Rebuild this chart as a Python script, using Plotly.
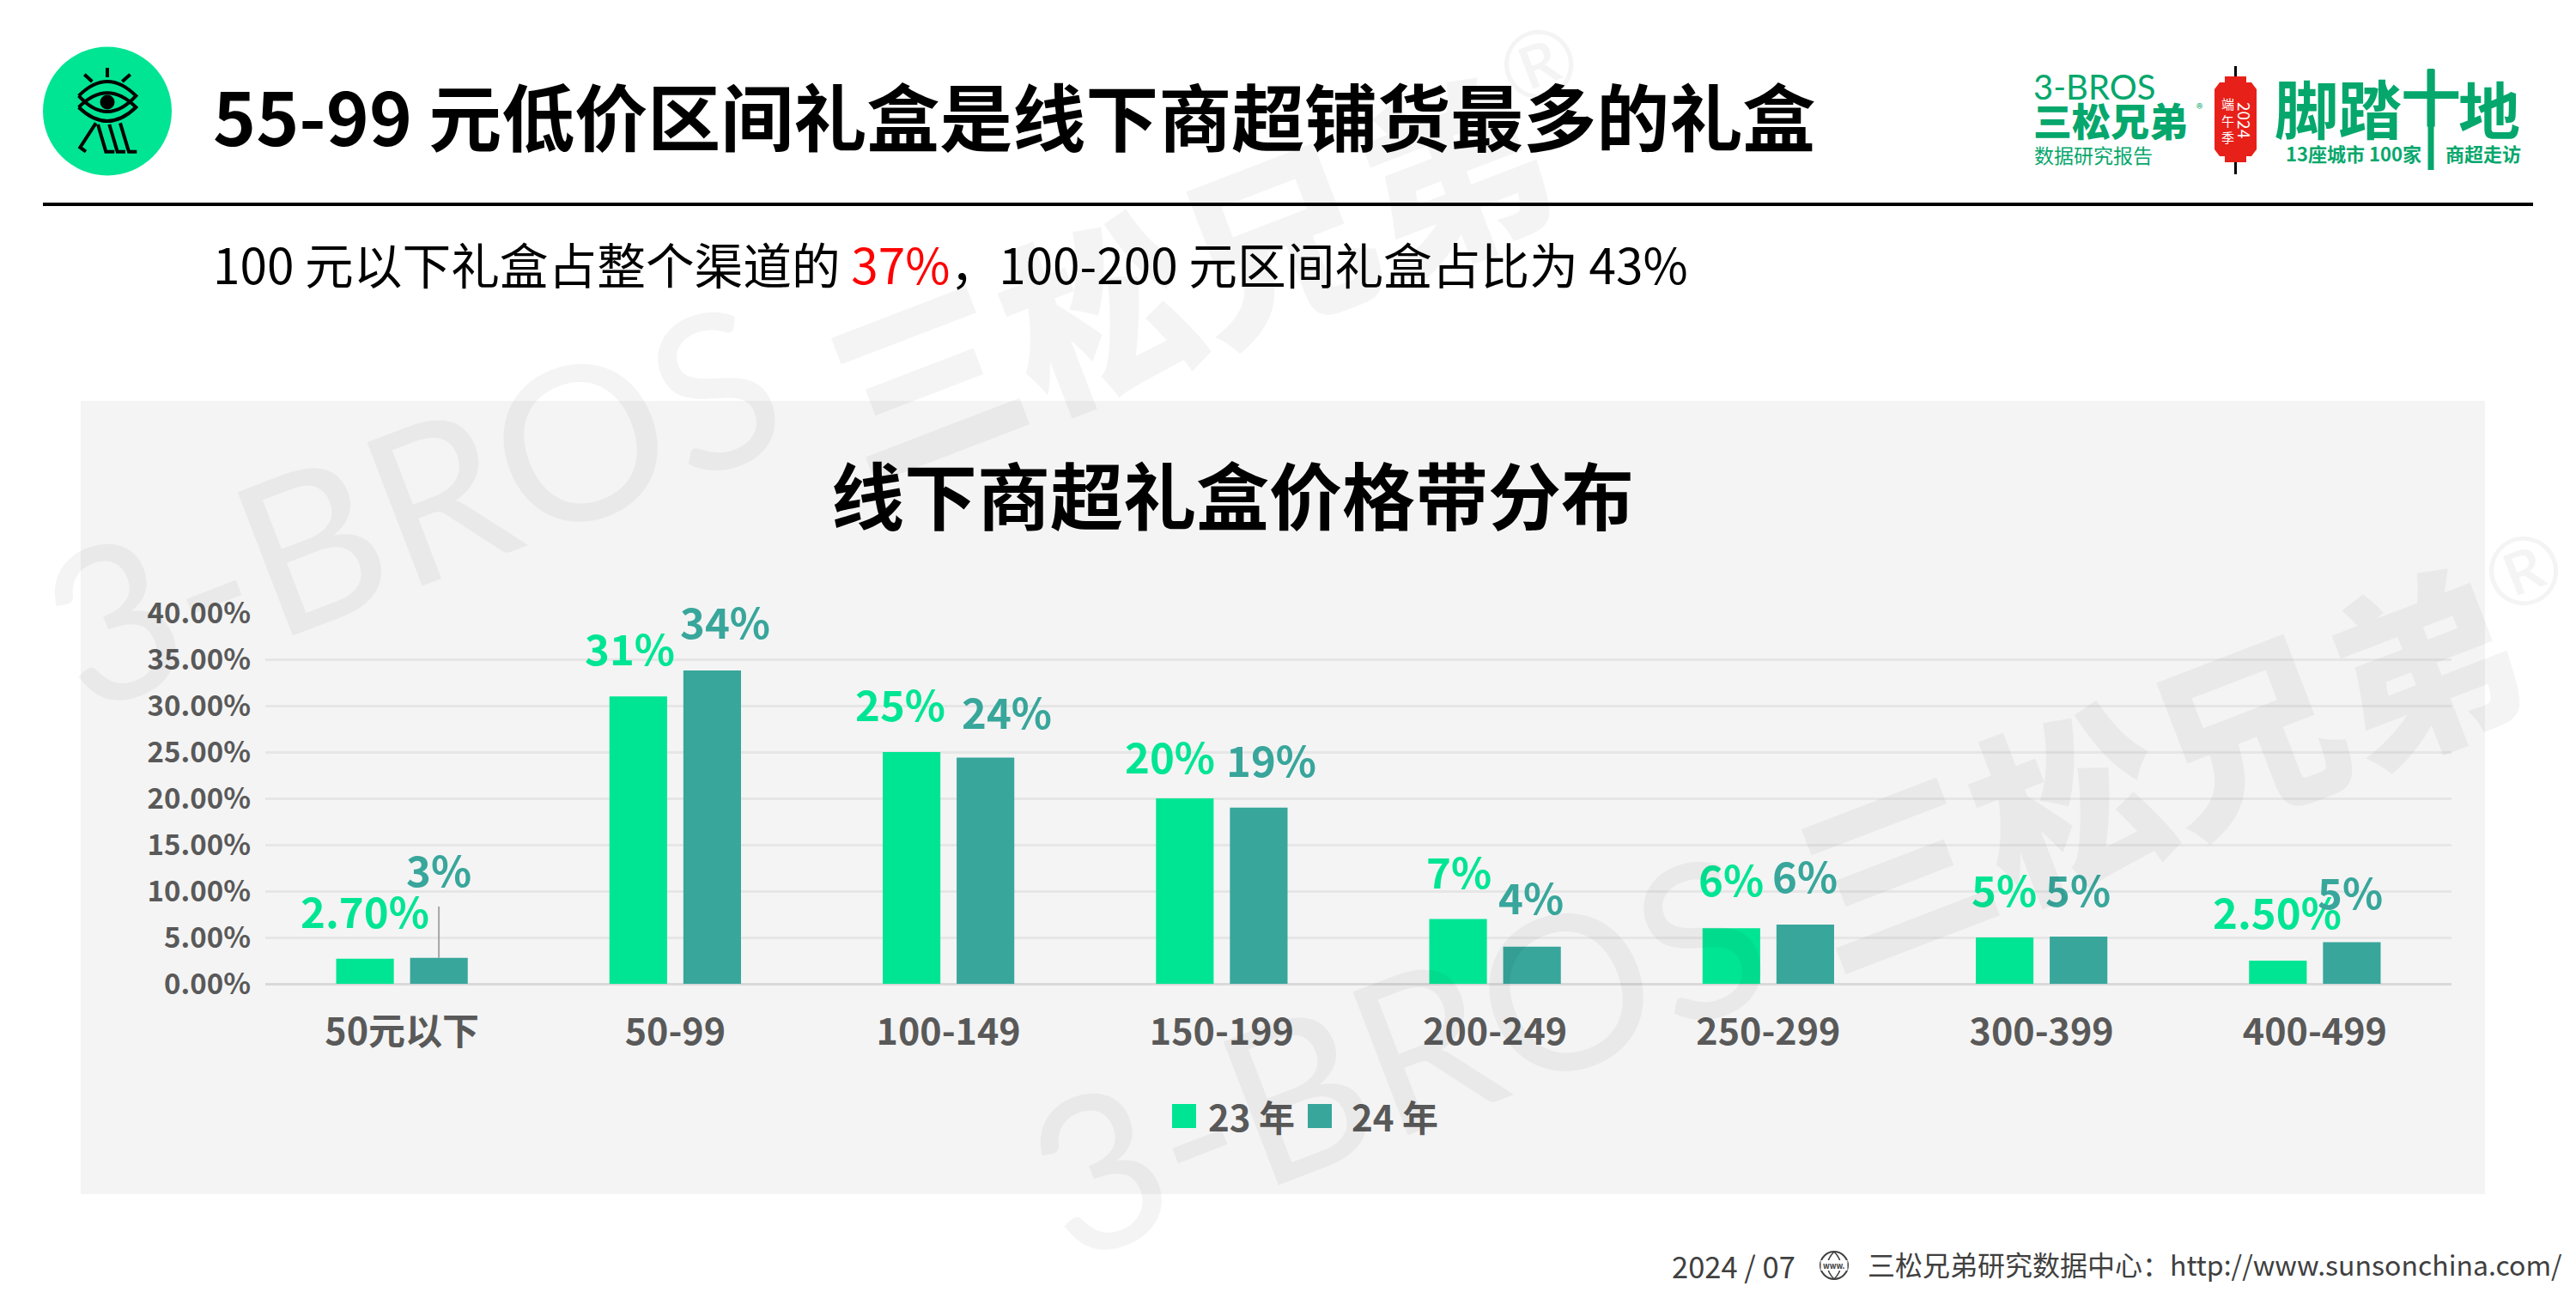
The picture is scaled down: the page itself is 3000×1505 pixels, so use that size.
import plotly.graph_objects as go

# ---- data ----
categories = ["50元以下", "50-99", "100-149", "150-199", "200-249", "250-299", "300-399", "400-499"]
values_23 = [2.7, 31, 25, 20, 7, 6, 5, 2.5]
values_24 = [2.8, 33.8, 24.4, 19, 4, 6.4, 5.1, 4.5]
labels_23 = ["2.70%", "31%", "25%", "20%", "7%", "6%", "5%", "2.50%"]
labels_24 = ["3%", "34%", "24%", "19%", "4%", "6%", "5%", "5%"]
series_names = ["23 年", "24 年"]

# ---- layout constants (pixels of the 3000x1505 page) ----
W, H = 3000, 1505
PL, PR, PT, PB = 309, 2855, 714, 1146
GREEN, TEAL, GREY = "#00E594", "#38A69B", "#595959"
LOGO = "#06A76C"
CJK = "Noto Sans CJK SC"
label_pos_23 = [(425, 1059), (733, 753), (1048, 818), (1362, 879), (1699, 1013), (2016, 1022), (2334, 1034), (2652, 1060)]
label_pos_24 = [(511, 1011), (844, 722), (1172, 827), (1480, 883), (1783, 1043), (2102, 1018), (2420, 1034), (2737, 1037)]

fx = lambda x: x / W
fy = lambda y: 1 - y / H
band = (PR - PL) / len(categories)
ypx = lambda v: PB - v * (PB - PT) / 40

annotations, shapes = [], []


def text(t, x, y, size, color="#000", anchor="left", weight=400, angle=0, family=CJK):
    annotations.append(dict(text=t, x=fx(x), y=fy(y), xref="paper", yref="paper", showarrow=False,
                            xanchor=anchor, yanchor="middle", textangle=angle,
                            font=dict(family=family, size=size, color=color, weight=weight)))


def path(points, width=4, color="#000", fill=None):
    d = ""
    for cmd, *pts in points:
        d += cmd + " ".join(f"{fx(pts[i])},{fy(pts[i + 1])}" for i in range(0, len(pts), 2)) + " "
    s = dict(type="path", path=d.strip(), xref="paper", yref="paper", line=dict(color=color, width=width))
    if fill:
        s["fillcolor"] = fill
    shapes.append(s)


def rect(x0, y0, x1, y1, fill, layer="below"):
    shapes.append(dict(type="rect", xref="paper", yref="paper", x0=fx(x0), x1=fx(x1), y0=fy(y0), y1=fy(y1),
                       fillcolor=fill, line=dict(width=0), layer=layer))


def circle(cx, cy, r, fill=None, color=None, width=0):
    shapes.append(dict(type="circle", xref="paper", yref="paper", x0=fx(cx - r), x1=fx(cx + r), y0=fy(cy - r), y1=fy(cy + r),
                       fillcolor=fill or "rgba(0,0,0,0)", line=dict(width=width, color=color or "rgba(0,0,0,0)")))


# panel and header rule
rect(94, 467, 2894, 1391, "#F4F4F4")
rect(50, 236, 2950, 240, "#000000")

# eye icon (drawn in the 170px crop's 3x units)
circle(125, 129.5, 75, fill=GREEN)
ix = lambda v: 40 + v / 3
iy = lambda v: 45 + v / 3
def icon(*cmds):
    conv = []
    for cmd, *p in cmds:
        conv.append([cmd] + [ix(p[i]) if i % 2 == 0 else iy(p[i]) for i in range(len(p))])
    path(conv, width=4)
icon(("M", 255, 102), ("L", 255, 135))
icon(("M", 175, 125), ("L", 202, 150))
icon(("M", 335, 125), ("L", 307, 150))
icon(("M", 155, 200), ("Q", 255, 100, 355, 200), ("Q", 255, 310, 155, 200))
icon(("M", 155, 240), ("Q", 255, 140, 355, 240), ("Q", 255, 336, 155, 240))
icon(("M", 215, 295), ("L", 160, 380), ("L", 180, 395))
icon(("M", 222, 300), ("L", 250, 395), ("L", 280, 395))
icon(("M", 262, 300), ("L", 290, 395), ("L", 318, 395))
icon(("M", 300, 295), ("L", 330, 395), ("L", 358, 395))
circle(ix(255), iy(222), 8.5, fill="#000")

# header texts
text("55-99 元低价区间礼盒是线下商超铺货最多的礼盒", 246, 133, 85, weight=700)
text("100 元以下礼盒占整个渠道的 <span style='color:#FF0000'>37%</span>，100-200 元区间礼盒占比为 43%", 246, 306, 56.7)
text("线下商超礼盒价格带分布", 1435, 573, 85, anchor="center", weight=700)

# right logo
text("3-BROS", 2366, 101, 40, LOGO, weight=400, family="Lato")
text("三松兄弟", 2366, 140, 45, LOGO, weight=900)
text("®", 2556, 126, 15, LOGO)
text("数据研究报告", 2367, 180, 23, LOGO)
path([("M", 2603.5, 77), ("L", 2603.5, 203)], width=3)
path([("M", 2591, 89), ("L", 2616, 89), ("L", 2616, 96), ("L", 2622, 96), ("L", 2628, 104), ("L", 2628, 174), ("L", 2622, 182),
      ("L", 2616, 182), ("L", 2616, 189), ("L", 2591, 189), ("L", 2591, 182), ("L", 2585, 182), ("L", 2579, 174),
      ("L", 2579, 104), ("L", 2585, 96), ("L", 2591, 96), ("Z",)], width=0, color="#E8201A", fill="#E8201A")
text("2024", 2614, 140, 19, "#fff", anchor="center", angle=90)
text("端<br>午<br>季", 2594, 140, 15, "#fff", anchor="center")
text("脚踏", 2723, 123, 74, LOGO, anchor="center", weight=700)
text("十", 2831, 110, 70, LOGO, anchor="center", weight=700)
path([("M", 2831, 80), ("L", 2831, 198)], width=7, color=LOGO)
text("地", 2899, 124, 72, LOGO, anchor="center", weight=700)
text("13座城市 100家", 2741, 178, 22, LOGO, anchor="center", weight=700)
text("商超走访", 2892, 178, 22, LOGO, anchor="center", weight=700)

# footer
text("2024 / 07", 1945, 1474, 34.5, "#404040")
circle(2136, 1474, 16, color="#404040", width=2)
path([("M", 2136, 1458), ("Q", 2120.5, 1474, 2136, 1490), ("Q", 2151.5, 1474, 2136, 1458)], width=1.5, color="#404040")
rect(2120.5, 1468, 2151.5, 1480, "#FFFFFF", layer="above")
text("www.", 2136, 1474, 9, "#404040", anchor="center", weight=700)
text("三松兄弟研究数据中心：http://www.sunsonchina.com/", 2173, 1472, 32, "#404040")

# legend
for name, color, x0, tx in zip(series_names, [GREEN, TEAL], [1365, 1523], [1405, 1572]):
    rect(x0, 1286, x0 + 28, 1314, color, layer="above")
    text(name, tx, 1299, 42, GREY, weight=700)

# data labels
for i, cat in enumerate(categories):
    center = PL + band * (i + 0.5)
    for val, lab, pos, col in ((values_23[i], labels_23[i], label_pos_23[i], GREEN),
                               (values_24[i], labels_24[i], label_pos_24[i], TEAL)):
        annotations.append(dict(text=lab, x=cat, y=val, xref="x", yref="y", showarrow=False,
                                xanchor="center", yanchor="middle",
                                xshift=pos[0] - center, yshift=ypx(val) - pos[1],
                                font=dict(family=CJK, size=49, color=col, weight=700)))

# leader line of the first teal label
shapes.append(dict(type="line", xref="x", yref="y", x0=categories[0], x1=categories[0], x0shift=0.135, x1shift=0.135,
                   y0=values_24[0], y1=8.33, line=dict(color="#A6A6A6", width=2)))

# watermarks
WM = "rgba(0,0,0,0.045)"
for (a, b, c) in (((478, 584), (1380, 312), (1790, 72)), ((1626, 1224), (2510, 884), (2937, 662))):
    text("3-BROS", a[0], a[1], 250, WM, anchor="center", weight=400, angle=-21, family="Lato")
    text("三松兄弟", b[0], b[1], 220, WM, anchor="center", weight=900, angle=-21)
    text("®", c[0], c[1], 110, WM, anchor="center", weight=400, angle=-21, family="Lato")

fig = go.Figure()
fig.add_bar(name=series_names[0], x=categories, y=values_23, marker=dict(color=GREEN, line=dict(width=0)))
fig.add_bar(name=series_names[1], x=categories, y=values_24, marker=dict(color=TEAL, line=dict(width=0)))
fig.update_layout(
    width=W, height=H, margin=dict(l=0, r=0, t=0, b=0, autoexpand=False), autosize=False,
    paper_bgcolor="#FFFFFF", plot_bgcolor="rgba(0,0,0,0)", showlegend=False,
    barmode="group", bargap=0.459, bargroupgap=0.22,
    annotations=annotations, shapes=shapes, font=dict(family=CJK),
    xaxis=dict(domain=[fx(PL), fx(PR)], type="category", categoryorder="array", categoryarray=categories,
               showgrid=False, showline=False, ticks="", ticklabelstandoff=27,
               tickfont=dict(family=CJK, size=43, color=GREY, weight=700)),
    yaxis=dict(domain=[fy(PB), fy(PT)], range=[0, 40], tick0=0, dtick=5, tickformat=".2f", ticksuffix="%",
               showgrid=True, gridcolor="#E6E6E6", gridwidth=2.5, zeroline=True, zerolinecolor="#D9D9D9", zerolinewidth=3,
               showline=False, ticks="", ticklabelstandoff=16,
               tickfont=dict(family=CJK, size=33, color=GREY, weight=700)),
)
fig.write_html("out.html", config=dict(displayModeBar=False),
               post_script="document.body.style.margin='0';document.documentElement.style.overflow='hidden';")
